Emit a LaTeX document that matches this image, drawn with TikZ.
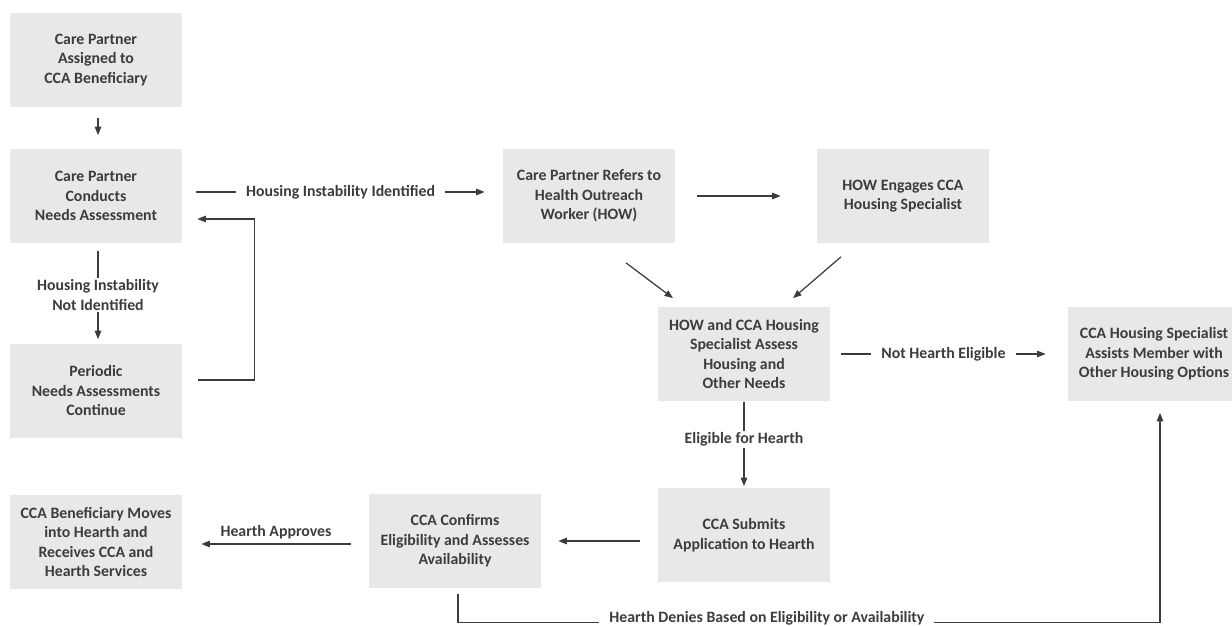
\documentclass[tikz,border=0pt]{standalone}
\usepackage{fontspec}
\setmainfont{Carlito}
\usetikzlibrary{arrows.meta}
\definecolor{boxgray}{HTML}{E7E8E7}
\definecolor{ink}{HTML}{3C3C3C}
\begin{document}
\begin{tikzpicture}[
x=0.02cm,y=-0.02cm,
font=\fontsize{9}{11.1}\selectfont\bfseries,
box/.style={fill=boxgray,text=ink,align=center,inner sep=0pt,minimum width=3.44cm,minimum height=1.9cm},
lbl/.style={fill=white,text=ink,align=center,inner xsep=0.2cm,inner ysep=1pt},
line/.style={draw=ink,line width=0.7pt},
arr/.style={line,-{Triangle[length=1.7mm,width=1.3mm]}},
]
\useasboundingbox (0,0) rectangle (1232,626);
\clip (0,0) rectangle (1232,626);
\node[box] (assigned) at (96,60) {Care Partner\\Assigned to\\CCA Beneficiary};
\node[box] (conducts) at (96,196) {Care Partner\\Conducts\\Needs Assessment};
\node[box] (periodic) at (96,391) {Periodic\\Needs Assessments\\Continue};
\node[box] (refers) at (589,196) {Care Partner Refers to\\Health Outreach\\Worker (HOW)};
\node[box] (engages) at (903,196) {HOW Engages CCA\\Housing Specialist};
\node[box] (assess) at (744,354) {HOW and CCA Housing\\Specialist Assess\\Housing and\\Other Needs};
\node[box] (options) at (1154,354) {CCA Housing Specialist\\Assists Member with\\Other Housing Options};
\node[box] (submits) at (744,535) {CCA Submits\\Application to Hearth};
\node[box] (confirms) at (455,541) {CCA Confirms\\Eligibility and Assesses\\Availability};
\node[box] (moves) at (96,542) {CCA Beneficiary Moves\\into Hearth and\\Receives CCA and\\Hearth Services};
\draw[arr] ([shift={(2,10)}]assigned.south) -- ([shift={(2,-13)}]conducts.north);
\draw[arr] ([shift={(2,7)}]conducts.south) -- ([shift={(2,-4)}]periodic.north)
    node[lbl,midway] {Housing Instability\\Not Identified};
\draw[arr] ([shift={(14,-4)}]conducts.east) -- ([shift={(-18,-4)}]refers.west)
    node[lbl,midway] {Housing Instability Identified};
\draw[arr] ([shift={(16,-11)}]periodic.east) -- ++(56,0) |- ([shift={(15,23)}]conducts.east);
\draw[arr] ([shift={(22,0)}]refers.east) -- ([shift={(-36,0)}]engages.west);
\draw[arr] ([shift={(37,19)}]refers.south) -- ([shift={(-71,-8)}]assess.north);
\draw[arr] ([shift={(-62,13)}]engages.south) -- ([shift={(49,-8)}]assess.north);
\draw[arr] ([shift={(11,0)}]assess.east) -- ([shift={(-22,0)}]options.west)
    node[lbl,midway] {Not Hearth Eligible};
\draw[arr] (assess.south) -- ([shift={(0,-1)}]submits.north)
    node[lbl,pos=0.45] {Eligible for Hearth};
\draw[arr] ([shift={(-18,6)}]submits.west) -- ([shift={(17,0)}]confirms.east);
\draw[arr] ([shift={(-18,3)}]confirms.west) -- ([shift={(19,2)}]moves.east)
    node[text=ink,midway,above,inner sep=2.5pt] {Hearth Approves};
\draw[arr] ([shift={(3,5)}]confirms.south) -- ++(0,29) -| ([shift={(6,11)}]options.south)
    node[lbl,pos=0.22,yshift=2.5pt] {Hearth Denies Based on Eligibility or Availability};
\end{tikzpicture}
\end{document}
